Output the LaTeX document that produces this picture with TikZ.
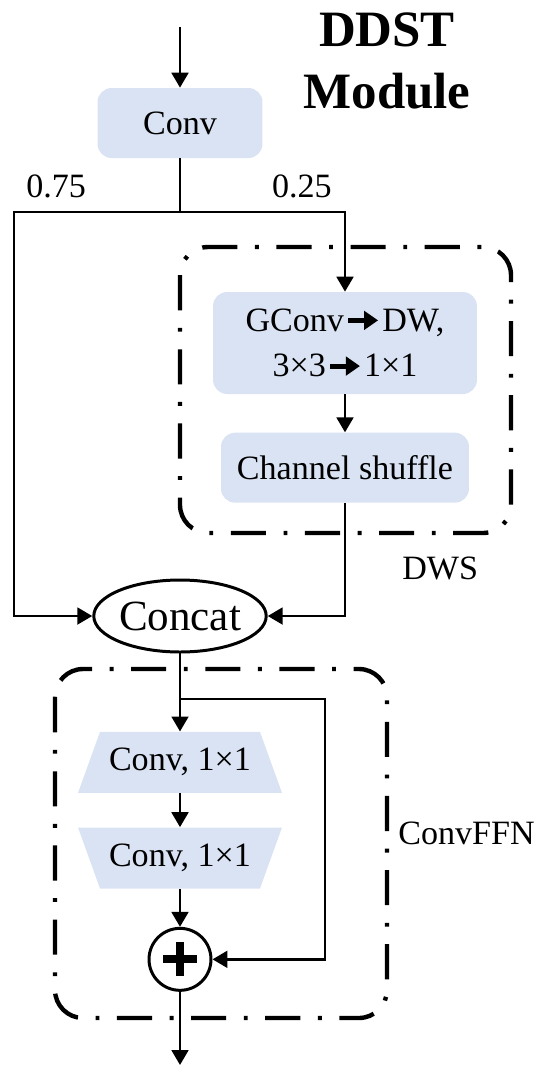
\documentclass[tikz,border=0pt]{standalone}
\usepackage{fontspec}
\setmainfont{Liberation Serif}
\usetikzlibrary{shapes.geometric, arrows.meta, positioning, calc}
\definecolor{boxblue}{RGB}{218,227,243}
\newcommand{\thickarrow}{\kern1pt\tikz[baseline=-0.32em]\draw[line width=2.8pt,-{Triangle[length=8pt,width=10.5pt]}] (0pt,0pt) -- (17pt,0pt);\kern1pt}

\begin{document}
\begin{tikzpicture}[
    x=0.02cm,
    y=-0.02cm,
    block/.style={
        rectangle,
        fill=boxblue,
        rounded corners=8pt,
        align=center,
        font=\fontsize{19.4}{26}\selectfont,
        inner sep=2pt
    },
    ffn/.style={
        rectangle,
        minimum width=4.08cm,
        minimum height=1.22cm,
        inner sep=0pt,
        font=\fontsize{19.4}{26}\selectfont,
        path picture={
            \fill [boxblue] ([xshift=0.44cm]path picture bounding box.north west) -- ([xshift=-0.44cm]path picture bounding box.north east)
                -- (path picture bounding box.south east) -- (path picture bounding box.south west) -- cycle;
        }
    },
    ffninv/.style={
        rectangle,
        minimum width=4.08cm,
        minimum height=1.22cm,
        inner sep=0pt,
        font=\fontsize{19.4}{26}\selectfont,
        path picture={
            \fill [boxblue] (path picture bounding box.north west) -- (path picture bounding box.north east)
                -- ([xshift=-0.44cm]path picture bounding box.south east) -- ([xshift=0.44cm]path picture bounding box.south west) -- cycle;
        }
    },
    flow/.style={
        -{Triangle[length=8.5pt,width=9.5pt]},
        line width=1.6pt
    },
    group/.style={
        draw,
        line width=2.5pt,
        dash pattern=on 20pt off 10pt on 2.2pt off 10pt,
        rounded corners=16pt
    },
    tag/.style={
        font=\fontsize{19.4}{26}\selectfont,
        inner sep=0pt
    }
]
    \useasboundingbox (0,0) rectangle (550,1080);

    \draw [group] (180,247) rectangle (511,533);
    \draw [group] (55,669) rectangle (387,1018);

    \node [block, minimum width=3.3cm, minimum height=1.4cm] (conv) at (180,123) {Conv};
    \node [block, minimum width=5.28cm, minimum height=2.04cm] (gconv) at (345,343) {GConv\thickarrow DW,\\3×3\thickarrow 1×1};
    \node [block, minimum width=4.96cm, minimum height=1.4cm, below=0.76cm of gconv] (shuffle) {Channel shuffle};
    \node [ellipse, draw, line width=1.7pt, minimum width=3.36cm, minimum height=1.44cm, inner sep=0pt, font=\fontsize{24.5}{29}\selectfont] (concat) at (180,616) {Concat};
    \node [ffn, below=1.56cm of concat] (ffn1) {Conv, 1×1};
    \node [ffninv, below=0.68cm of ffn1] (ffn2) {Conv, 1×1};
    \node [circle, draw, line width=1.7pt, minimum size=1.24cm, below=0.76cm of ffn2] (add) {};
    \draw [line width=4.6pt] ($(add)+(-17,0)$) -- ($(add)+(17,0)$);
    \draw [line width=4.6pt] ($(add)+(0,-17)$) -- ($(add)+(0,17)$);

    \node [tag, anchor=base west] (ratio1) at (26,197) {0.75};
    \node [tag, anchor=base east] (ratio2) at (332,197) {0.25};
    \node [tag, anchor=base west] (dws) at (402,579) {DWS};
    \node [tag, anchor=base west] (ffnname) at (398,844) {ConvFFN};
    \node [align=center, inner sep=0pt, font=\fontsize{29}{35}\selectfont\bfseries] (title) at (387,61) {DDST\\Module};

    \coordinate (in) at (180,27);
    \coordinate (split) at (180,212);
    \coordinate (lbranch) at (14,212);
    \coordinate (rbranch) at (345,212);
    \coordinate (fork) at (180,699);
    \coordinate (skip) at (325,699);
    \coordinate (out) at (180,1065);

    \draw [flow] (in) -- (conv);
    \draw [line width=1.6pt] (conv) -- (split);
    \draw [flow] (split) -- (lbranch) |- (concat);
    \draw [flow] (split) -- (rbranch) -- (gconv);
    \draw [flow] (gconv) -- (shuffle);
    \draw [flow] (shuffle) |- (concat);
    \draw [flow] (concat) -- (ffn1);
    \draw [flow] (ffn1) -- (ffn2);
    \draw [flow] (ffn2) -- (add);
    \draw [flow] (fork) -- (skip) |- (add);
    \draw [flow] (add) -- (out);
\end{tikzpicture}
\end{document}
